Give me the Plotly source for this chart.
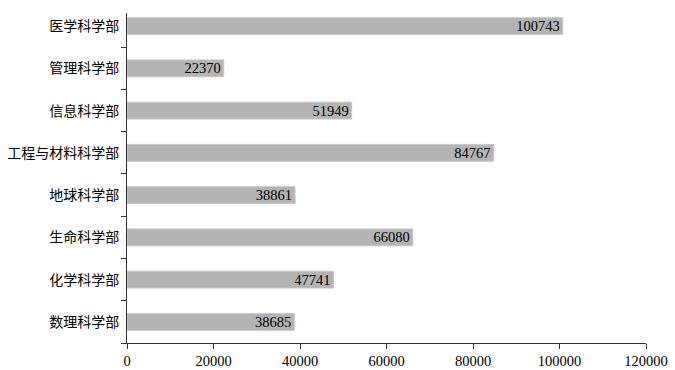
import plotly.graph_objects as go

categories = ["数理科学部", "化学科学部", "生命科学部", "地球科学部",
              "工程与材料科学部", "信息科学部", "管理科学部", "医学科学部"]
values = [38685, 47741, 66080, 38861, 84767, 51949, 22370, 100743]
x_ticks = [0, 20000, 40000, 60000, 80000, 100000, 120000]

fig = go.Figure(go.Bar(
    y=categories, x=values, orientation="h",
    width=0.4,
    marker=dict(color="#b4b4b4", line=dict(color="#c8c8c8", width=1)),
    text=[str(v) for v in values],
    textposition="inside", insidetextanchor="end",
    constraintext="none",
    textfont=dict(family="Liberation Serif", size=14.5, color="black"),
))

fig.update_layout(
    width=675, height=370,
    margin=dict(l=127, r=29, t=13, b=27, autoexpand=False),
    plot_bgcolor="white", paper_bgcolor="white",
    showlegend=False,
    font=dict(family="Liberation Serif", size=14, color="black"),
)
fig.update_xaxes(
    range=[0, 120000], tickvals=x_ticks, ticktext=[str(v) for v in x_ticks],
    showgrid=False, zeroline=False, automargin=False,
    showline=True, linecolor="#333", linewidth=1,
    ticks="outside", ticklen=5, tickcolor="#333",
    tickfont=dict(family="Liberation Serif", size=14.5, color="black"),
)
fig.update_yaxes(
    type="category", categoryorder="array", categoryarray=categories,
    range=[-0.5, 7.31], automargin=False,
    showgrid=False, zeroline=False,
    showline=True, linecolor="#333", linewidth=1,
    ticks="outside", ticklen=5, tickcolor="#333", tickson="boundaries",
    ticklabelstandoff=4,
    tickfont=dict(family="Noto Sans CJK SC", size=14, color="black"),
)

fig.write_html("out.html")
